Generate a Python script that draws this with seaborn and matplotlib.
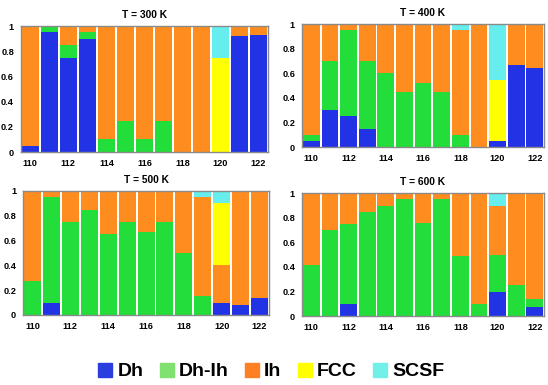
import matplotlib
matplotlib.use("Agg")
import matplotlib.pyplot as plt
from matplotlib.patches import Patch
import pandas as pd
import seaborn as sns

SIZES = list(range(110, 123))
PHASES = ["Dh", "Dh-Ih", "Ih", "FCC", "SCSF"]
COLORS = ["#2233e6", "#22dd3a", "#ff8c1f", "#ffff00", "#66eeee"]
LEGEND_COLORS = ["#2a3ee0", "#80e070", "#ff8024", "#ffff00", "#70f0e8"]

# fractions per cluster size, one list per phase
T300 = {
    "Dh":    [0.05, 0.95, 0.75, 0.90, 0, 0, 0, 0, 0, 0, 0, 0.92, 0.93],
    "Dh-Ih": [0, 0.05, 0.10, 0.05, 0.10, 0.25, 0.10, 0.25, 0, 0, 0, 0, 0],
    "Ih":    [0.95, 0, 0.15, 0.05, 0.90, 0.75, 0.90, 0.75, 1.0, 1.0, 0, 0.08, 0.07],
    "FCC":   [0, 0, 0, 0, 0, 0, 0, 0, 0, 0, 0.75, 0, 0],
    "SCSF":  [0, 0, 0, 0, 0, 0, 0, 0, 0, 0, 0.25, 0, 0],
}
T400 = {
    "Dh":    [0.05, 0.30, 0.25, 0.15, 0, 0, 0, 0, 0, 0, 0.05, 0.67, 0.64],
    "Dh-Ih": [0.05, 0.40, 0.70, 0.55, 0.60, 0.45, 0.52, 0.45, 0.10, 0, 0, 0, 0],
    "Ih":    [0.90, 0.30, 0.05, 0.30, 0.40, 0.55, 0.48, 0.55, 0.85, 1.0, 0, 0.33, 0.36],
    "FCC":   [0, 0, 0, 0, 0, 0, 0, 0, 0, 0, 0.50, 0, 0],
    "SCSF":  [0, 0, 0, 0, 0, 0, 0, 0, 0.05, 0, 0.45, 0, 0],
}
T500 = {
    "Dh":    [0, 0.10, 0, 0, 0, 0, 0, 0, 0, 0, 0.10, 0.08, 0.14],
    "Dh-Ih": [0.27, 0.85, 0.75, 0.85, 0.65, 0.75, 0.67, 0.75, 0.50, 0.15, 0, 0, 0],
    "Ih":    [0.73, 0.05, 0.25, 0.15, 0.35, 0.25, 0.33, 0.25, 0.50, 0.80, 0.30, 0.92, 0.86],
    "FCC":   [0, 0, 0, 0, 0, 0, 0, 0, 0, 0, 0.50, 0, 0],
    "SCSF":  [0, 0, 0, 0, 0, 0, 0, 0, 0, 0.05, 0.10, 0, 0],
}
T600 = {
    "Dh":    [0, 0, 0.10, 0, 0, 0, 0, 0, 0, 0, 0.20, 0, 0.07],
    "Dh-Ih": [0.42, 0.70, 0.65, 0.85, 0.90, 0.95, 0.76, 0.95, 0.49, 0.10, 0.30, 0.25, 0.07],
    "Ih":    [0.58, 0.30, 0.25, 0.15, 0.10, 0.05, 0.24, 0.05, 0.51, 0.90, 0.40, 0.75, 0.86],
    "FCC":   [0, 0, 0, 0, 0, 0, 0, 0, 0, 0, 0, 0, 0],
    "SCSF":  [0, 0, 0, 0, 0, 0, 0, 0, 0, 0, 0.10, 0, 0],
}
PANELS = [("T = 300 K", T300), ("T = 400 K", T400), ("T = 500 K", T500), ("T = 600 K", T600)]

# axes boxes in figure fractions: left, bottom, width, height
BOXES = [
    [0.038, 0.605, 0.451, 0.327],
    [0.551, 0.618, 0.442, 0.319],
    [0.042, 0.182, 0.449, 0.322],
    [0.551, 0.179, 0.442, 0.319],
]

sns.set_theme(style="white", rc={"text.color": "black", "xtick.color": "black",
                                 "ytick.color": "black", "axes.labelcolor": "black"})
plt.rcParams["font.family"] = ["Liberation Sans", "DejaVu Sans"]

fig = plt.figure(figsize=(5.48, 3.85), dpi=100)
palette = dict(zip(PHASES, COLORS))

for (title, data), box in zip(PANELS, BOXES):
    ax = fig.add_axes(box)
    df = pd.DataFrame([
        {"size": s, "phase": p, "frac": v}
        for p in PHASES for s, v in zip(SIZES, data[p])
    ])
    # seaborn stacks the last hue level at the bottom
    sns.histplot(data=df, x="size", weights="frac", hue="phase",
                 hue_order=PHASES[::-1], palette=palette, multiple="stack",
                 discrete=True, shrink=0.9, alpha=1, linewidth=0,
                 legend=False, ax=ax)
    ax.set_xlim(109.5, 122.5)
    ax.set_ylim(0, 1.0)
    ax.set_xticks(SIZES[::2])
    ax.set_yticks([0, 0.2, 0.4, 0.6, 0.8, 1.0])
    ax.set_yticklabels(["0", "0.2", "0.4", "0.6", "0.8", "1"])
    ax.tick_params(axis="both", length=0, labelsize=6.6, pad=5, labelcolor="black")
    for lab in ax.get_xticklabels() + ax.get_yticklabels():
        lab.set_fontweight("bold")
    ax.set_xlabel("")
    ax.set_ylabel("")
    ax.set_title(title, fontsize=7.4, fontweight="bold", pad=6, color="black")
    for sp in ax.spines.values():
        sp.set_color("#8a8a8a")
        sp.set_linewidth(1.0)

handles = [Patch(facecolor=c, edgecolor=c, label=p) for p, c in zip(PHASES, LEGEND_COLORS)]
fig.legend(handles=handles, loc="center", bbox_to_anchor=(0.495, 0.035), ncol=5,
           frameon=False, handlelength=0.72, handleheight=0.72, handletextpad=0.25,
           columnspacing=0.85, borderpad=0.1, labelcolor="black",
           prop={"size": 14, "weight": "bold"})

fig.savefig("out.png", dpi=100)
